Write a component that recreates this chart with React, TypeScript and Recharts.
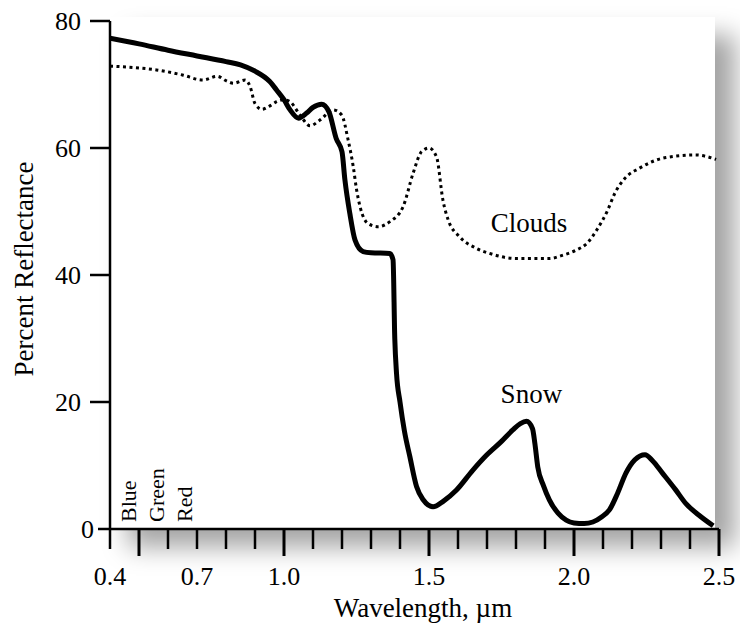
import React from "react";
import { LineChart, Line, XAxis, YAxis, ReferenceDot, Label } from "recharts";

const FONT = "'Liberation Serif', 'Times New Roman', serif";

// snow (solid line)
const snowWavelength = [
  0.4, 0.5, 0.6, 0.7, 0.8, 0.85, 0.9, 0.95, 0.975, 1.0, 1.021, 1.05, 1.078, 1.1,
  1.13, 1.155, 1.18, 1.2, 1.21, 1.227, 1.245, 1.273, 1.3, 1.365, 1.376, 1.382,
  1.388, 1.4, 1.415, 1.434, 1.457, 1.48, 1.514, 1.55, 1.594, 1.65, 1.698, 1.75,
  1.789, 1.815, 1.836, 1.857, 1.865, 1.875, 1.895, 1.915, 1.945, 1.973, 2.0, 2.035,
  2.065, 2.095, 2.122, 2.15, 2.179, 2.21, 2.245, 2.27, 2.305, 2.35, 2.386, 2.43,
  2.48,
];
const snowReflectance = [
  77.3, 76.4, 75.4, 74.5, 73.6, 73.1, 72.1, 70.5, 69.1, 67.6, 66.0, 64.7, 65.5, 66.4,
  66.9, 65.7, 61.5, 59.4, 55.0, 49.7, 45.5, 43.7, 43.5, 43.4, 42.4, 30.0,
  24.5, 20.0, 15.5, 11.4, 6.7, 4.6, 3.5, 4.4, 6.1, 9.2, 11.6, 13.8,
  15.6, 16.6, 16.95, 15.8, 13.5, 9.8, 6.8, 4.6, 2.5, 1.4, 0.95, 0.85,
  1.1, 1.9, 3.0, 5.6, 8.8, 10.9, 11.7, 10.8, 8.8, 6.2, 4.0, 2.2,
  0.5,
];

// clouds (dotted line)
const cloudWavelength = [
  0.4, 0.5, 0.56, 0.65, 0.72, 0.77, 0.8, 0.826, 0.866, 0.883, 0.9, 0.924, 0.95,
  0.975, 1.0, 1.021, 1.055, 1.09, 1.124, 1.17, 1.199, 1.221, 1.239, 1.25, 1.262,
  1.29, 1.325, 1.365, 1.411, 1.445, 1.474, 1.5, 1.526, 1.548, 1.566, 1.606, 1.663,
  1.709, 1.8, 1.915, 1.96, 2.007, 2.045, 2.08, 2.116, 2.14, 2.175, 2.225, 2.317,
  2.42, 2.49,
];
const cloudReflectance = [
  72.9, 72.6, 72.3, 71.5, 70.7, 71.3, 70.6, 70.2, 70.7, 69.7, 67.0, 66.1, 66.6,
  67.3, 67.6, 67.3, 65.2, 63.5, 64.4, 66.0, 65.2, 61.3, 57.0, 53.5, 50.8,
  48.1, 47.6, 48.4, 50.8, 56.0, 59.4, 60.0, 58.6, 51.8, 48.7, 46.0, 44.2,
  43.4, 42.6, 42.6, 43.1, 43.9, 45.0, 47.2, 50.2, 52.8, 55.2, 56.8, 58.5,
  58.9, 58.2,
];

const yTicks = [0, 20, 40, 60, 80];
const xTicks = [
  0.4, 0.5, 0.6, 0.7, 0.8, 0.9, 1.0, 1.1, 1.2, 1.3, 1.4, 1.5, 1.6, 1.7, 1.8, 1.9,
  2.0, 2.1, 2.2, 2.3, 2.4, 2.5,
];
const xLabelTicks = [0.4, 0.7, 1.0, 1.5, 2.0, 2.5];
const xMajorTicks = [0.5, 1.0, 1.5, 2.0, 2.5];

const bandNames = ["Blue", "Green", "Red"];
const bandCenters = [0.464, 0.561, 0.66];

const snowData = snowWavelength.map((w, i) => ({ w, r: snowReflectance[i] }));
const cloudData = cloudWavelength.map((w, i) => ({ w, r: cloudReflectance[i] }));

const near = (list: number[], v: number) => list.some((m) => Math.abs(m - v) < 1e-6);

const XTick = (props: any) => {
  const { x, y, payload } = props;
  const v = payload.value;
  const major = near(xMajorTicks, v);
  return (
    <g>
      <line x1={x} x2={x} y1={y} y2={y + (major ? 27 : 20)} stroke="#000" strokeWidth={major ? 3 : 2.5} />
      {near(xLabelTicks, v) && (
        <text x={x} y={y + 56} textAnchor="middle" fontSize={26} fontFamily={FONT} fill="#000">
          {v.toFixed(1)}
        </text>
      )}
    </g>
  );
};

const YTick = (props: any) => {
  const { x, y, payload } = props;
  const zero = payload.value === 0;
  return (
    <g>
      <line x1={x + (zero ? 16 : 8)} x2={x + 28} y1={y} y2={y} stroke="#000" strokeWidth={2.5} />
      <text x={zero ? x + 12 : x - 1} y={y} dy="0.34em" textAnchor="end" fontSize={26} fontFamily={FONT} fill="#000">
        {payload.value}
      </text>
    </g>
  );
};

const plainText = (text: string, size: number) => (props: any) => {
  const { x, y } = props.viewBox;
  return (
    <text x={x} y={y} textAnchor="middle" fontSize={size} fontFamily={FONT} fill="#000">
      {text}
    </text>
  );
};

const bandText = (text: string) => (props: any) => {
  const { x, y } = props.viewBox;
  return (
    <text
      transform={`translate(${x + 7},${y - 7}) rotate(-90)`}
      textAnchor="start"
      fontSize={22}
      fontFamily={FONT}
      fill="#000"
    >
      {text}
    </text>
  );
};

export default function App() {
  return (
    <div style={{ position: "absolute", left: 0, top: 0, width: 740, height: 626, background: "#fff", overflow: "hidden" }}>
      {/* page shadow behind the plot */}
      <div
        style={{
          position: "absolute",
          left: 108,
          top: 17,
          width: 607,
          height: 512,
          background: "#fff",
          boxShadow: "20px 18px 24px rgba(0,0,0,0.36)",
        }}
      />
      <div style={{ position: "absolute", left: 0, top: 0 }}>
        <LineChart width={740} height={626} margin={{ top: 21, right: 21, bottom: 0, left: 0 }}>
          <XAxis
            dataKey="w"
            type="number"
            domain={[0.4, 2.5]}
            ticks={xTicks}
            interval={0}
            height={97}
            tick={XTick}
            tickLine={false}
            tickSize={0}
            tickMargin={0}
            axisLine={{ stroke: "#000", strokeWidth: 2.5 }}
            allowDataOverflow
          />
          <YAxis
            type="number"
            domain={[0, 80]}
            ticks={yTicks}
            interval={0}
            width={110}
            tick={YTick}
            tickLine={false}
            tickSize={20}
            tickMargin={8}
            axisLine={{ stroke: "#000", strokeWidth: 2.5 }}
          />
          <Line
            data={cloudData}
            dataKey="r"
            type="monotone"
            stroke="#000"
            strokeWidth={3}
            strokeDasharray="3 3.5"
            dot={false}
            isAnimationActive={false}
          />
          <Line
            data={snowData}
            dataKey="r"
            type="monotone"
            stroke="#000"
            strokeWidth={5}
            dot={false}
            isAnimationActive={false}
          />
          <ReferenceDot x={1.853} y={19.8} r={0} fill="none" stroke="none">
            <Label content={plainText("Snow", 27)} />
          </ReferenceDot>
          <ReferenceDot x={1.845} y={46.8} r={0} fill="none" stroke="none">
            <Label content={plainText("Clouds", 27)} />
          </ReferenceDot>
          {bandNames.map((name, i) => (
            <ReferenceDot key={name} x={bandCenters[i]} y={0} r={0} fill="none" stroke="none">
              <Label content={bandText(name)} />
            </ReferenceDot>
          ))}
        </LineChart>
      </div>
      <svg width={740} height={626} style={{ position: "absolute", left: 0, top: 0, pointerEvents: "none" }}>
        <text transform="translate(33,269) rotate(-90)" textAnchor="middle" fontSize={27} fontFamily={FONT} fill="#000">
          Percent Reflectance
        </text>
        <text x={423} y={617} textAnchor="middle" fontSize={27} fontFamily={FONT} fill="#000">
          Wavelength, µm
        </text>
      </svg>
    </div>
  );
}
